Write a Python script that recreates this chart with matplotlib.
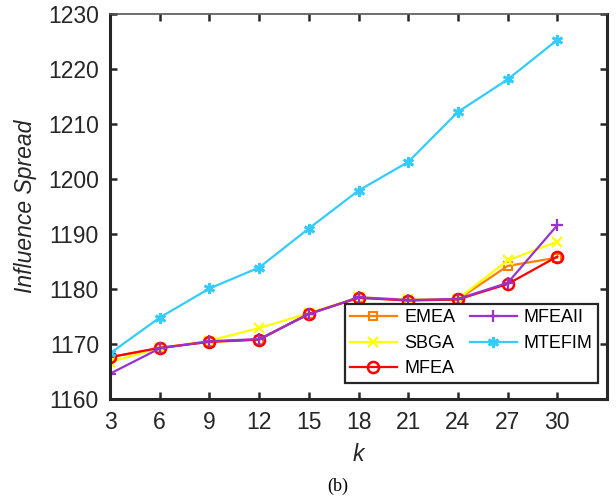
import numpy as np
import matplotlib
matplotlib.use("Agg")
import matplotlib.pyplot as plt

# values
k = [3, 6, 9, 12, 15, 18, 21, 24, 27, 30]
emea = [1167.6, 1169.3, 1170.4, 1170.8, 1175.5, 1178.4, 1178.0, 1178.1, 1184.2, 1185.7]
sbga = [1166.7, 1169.3, 1170.6, 1172.9, 1175.6, 1178.5, 1178.1, 1178.2, 1185.2, 1188.6]
mfea = [1167.6, 1169.3, 1170.4, 1170.8, 1175.5, 1178.4, 1177.9, 1178.1, 1180.9, 1185.9]
mfeaii = [1164.6, 1169.2, 1170.5, 1170.9, 1175.4, 1178.5, 1178.0, 1178.2, 1181.1, 1191.6]
mtefim = [1168.3, 1174.8, 1180.1, 1183.9, 1191.0, 1197.9, 1203.1, 1212.2, 1218.1, 1225.3]

plt.rcParams['font.family'] = ['Liberation Sans', 'DejaVu Sans']

fig = plt.figure(figsize=(6.16, 5.01), dpi=100)
ax = fig.add_axes([0.1786, 0.2036, 0.8068, 0.7684])

lw = 1.6
ax.plot(k, emea, color='#FF8000', lw=lw, marker='s', ms=6, mfc='none', mew=1.5, label='EMEA')
ax.plot(k, sbga, color='#FFFF00', lw=lw, marker='x', ms=7, mew=1.6, label='SBGA')
ax.plot(k, mfea, color='#FF0000', lw=lw, marker='o', ms=8, mfc='none', mew=1.8, label='MFEA')
ax.plot(k, mfeaii, color='#9933CC', lw=lw, marker='+', ms=9, mew=1.6, label='MFEAII')
ax.plot(k, mtefim, color='#33CCFF', lw=lw, marker=(6, 2, 0), ms=8, mew=2.0, label='MTEFIM')

ax.set_xlim(3, 33)
ax.set_ylim(1160, 1230)
ax.set_xticks(k)
ax.set_yticks(np.arange(1160, 1231, 10))
ax.tick_params(direction='in', length=5, width=1.8, labelsize=16.5, colors='#262626',
               top=True, right=True, pad=8)
ax.tick_params(axis='x', pad=9)
for side in ['left', 'bottom', 'right']:
    ax.spines[side].set_linewidth(2.2)
    ax.spines[side].set_color('#262626')
ax.spines['top'].set_linewidth(1.2)
ax.spines['top'].set_color('#555555')

ax.set_ylabel('Influence Spread', fontsize=16.5, style='italic', color='#262626', labelpad=8)
ax.set_xlabel('k', fontsize=16.5, style='italic', color='#262626', labelpad=6)

leg = ax.legend(ncol=2, loc='lower right', bbox_to_anchor=(0.982, 0.042), borderaxespad=0,
                fontsize=13, handlelength=2.6, columnspacing=0.8, handletextpad=0.4,
                labelspacing=0.47, borderpad=0.3, fancybox=False, framealpha=1)
leg.get_frame().set_edgecolor('#262626')
leg.get_frame().set_linewidth(1.6)

fig.text(0.549, 0.02, '(b)', fontsize=13, family='Liberation Serif', ha='center')

fig.savefig('out.png', dpi=100)
